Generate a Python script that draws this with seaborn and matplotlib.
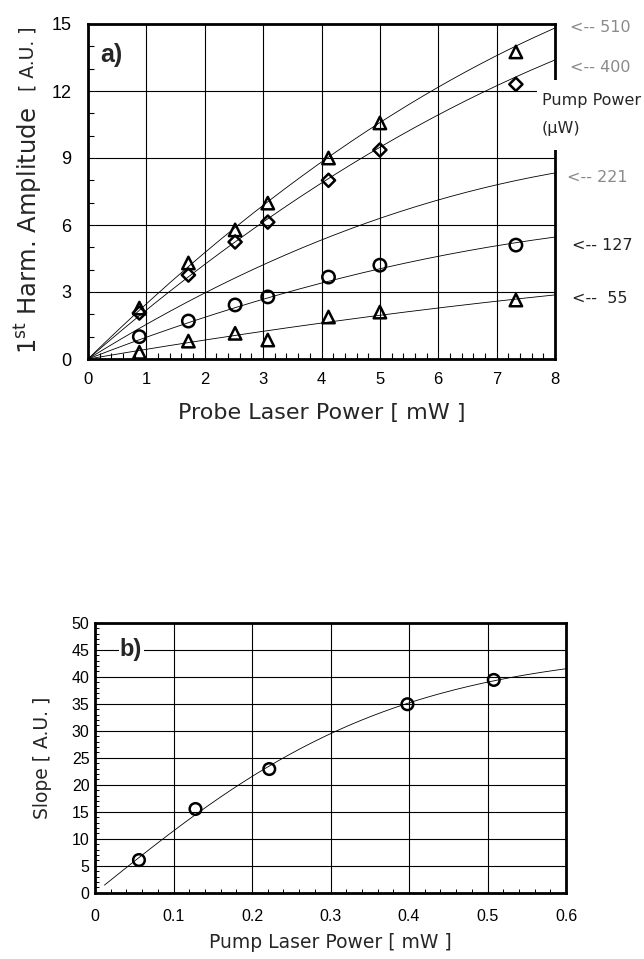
import numpy as np
import pandas as pd
import matplotlib
matplotlib.use("Agg")
import matplotlib.pyplot as plt
from matplotlib.ticker import MultipleLocator
from matplotlib.patches import Rectangle
import seaborn as sns

# ---------------- data ----------------
probe_power = [0.88, 1.72, 2.52, 3.08, 4.12, 5.0, 7.33]          # mW
amp_510 = [2.28, 4.30, 5.78, 6.98, 9.00, 10.57, 13.75]
amp_400 = [2.06, 3.76, 5.24, 6.13, 8.00, 9.36, 12.30]
amp_221 = [1.50, 2.46, 3.54, 4.07, 5.42, 6.27, 7.57]
amp_127 = [1.00, 1.70, 2.42, 2.78, 3.67, 4.20, 5.10]
amp_55 = [0.30, 0.80, 1.15, 0.85, 1.88, 2.10, 2.64]
series_labels = ["510", "400", "221", "127", "55"]
# fitted-curve values at probe power 4 and 8 mW
fit_at_4 = [8.82, 7.88, 5.33, 3.40, 1.61]
fit_at_8 = [14.82, 13.39, 8.33, 5.46, 2.87]

pump_power = [0.056, 0.128, 0.222, 0.398, 0.508]                 # mW
slope = [6.05, 15.5, 22.9, 34.9, 39.4]

xticks_a = [0, 1, 2, 3, 4, 5, 6, 7, 8]
yticks_a = [0, 3, 6, 9, 12, 15]
xticks_b = [0, 0.1, 0.2, 0.3, 0.4, 0.5, 0.6]
yticks_b = [0, 5, 10, 15, 20, 25, 30, 35, 40, 45, 50]

# ---------------- figure ----------------
sns.set_theme(style="white")
plt.rcParams["font.family"] = ["Liberation Sans", "DejaVu Sans"]
W, H = 644, 959
fig = plt.figure(figsize=(W / 100, H / 100), dpi=100)
fig.patch.set_facecolor("white")


def px_axes(l, r, t, b):
    return fig.add_axes([l / W, 1 - b / H, (r - l) / W, (b - t) / H])


LABEL_FONT = ["DejaVu Sans"]

# ---------- panel a ----------
ax = px_axes(88, 555, 24, 359)
series = [amp_510, amp_400, amp_221, amp_127, amp_55]
markers = ["^", "D", (6, 2, 0), "o", "^"]
sizes = [80, 45, 110, 80, 80]
xfit = np.linspace(0.0, 8.0, 200)
for vals, mk, sz, f4, f8 in zip(series, markers, sizes, fit_at_4, fit_at_8):
    # quadratic through origin matching the fitted curve at 4 and 8 mW
    c = (f8 - 2 * f4) / 32.0
    b = (f4 - 16 * c) / 4.0
    yfit = b * xfit + c * xfit ** 2
    sns.lineplot(x=xfit, y=yfit, ax=ax, color="black", linewidth=0.6,
                 zorder=3)
    sns.scatterplot(x=probe_power, y=vals, ax=ax, marker=mk, s=sz,
                    facecolor="none", edgecolor="black", linewidth=1.8,
                    zorder=4)

ax.set_xlim(0, 8)
ax.set_ylim(0, 15)
ax.set_xticks(xticks_a)
ax.set_yticks(yticks_a)
ax.set_xticklabels([str(t) for t in xticks_a])
ax.set_yticklabels([str(t) for t in yticks_a])
ax.xaxis.set_minor_locator(MultipleLocator(0.2))
ax.yaxis.set_minor_locator(MultipleLocator(1))
ax.tick_params(axis="both", which="major", direction="in", length=0,
               pad=9, colors="black")
ax.tick_params(axis="x", which="major", labelsize=12)
ax.tick_params(axis="y", which="major", labelsize=13, pad=12)
ax.tick_params(axis="both", which="minor", direction="in", length=4,
               width=0.8, bottom=True, left=True, color="black")
ax.grid(True, which="major", color="black", linewidth=0.8)
for s in ax.spines.values():
    s.set_visible(True)
    s.set_color("black")
    s.set_linewidth(2)
ax.set_xlabel("Probe Laser Power [ mW ]", fontsize=16, family=LABEL_FONT,
              labelpad=12)
ax.set_ylabel("")
ax.text(-0.128, 0.015, "1$^{\\mathrm{st}}$ Harm. Amplitude",
        transform=ax.transAxes, rotation=90, ha="center", va="bottom",
        fontsize=17.5, family=LABEL_FONT)
ax.text(-0.128, 0.80, "[ A.U. ]", transform=ax.transAxes, rotation=90,
        ha="center", va="bottom", fontsize=13.5, family=LABEL_FONT)
ax.text(0.026, 0.907, "a)", transform=ax.transAxes, ha="left",
        va="center", fontsize=18, fontweight="bold")

# white box for pump power legend text (breaks right spine / gridline)
fig.patches.append(Rectangle((537 / W, 1 - 150 / H), (W - 537) / W,
                             70 / H, transform=fig.transFigure,
                             facecolor="white", edgecolor="none", zorder=2))
fig.text(542 / W, 1 - 100 / H, "Pump Power", fontsize=11.5,
         family=LABEL_FONT, va="center", ha="left", zorder=4)
fig.text(542 / W, 1 - 128 / H, "(\u03bcW)", fontsize=11.5,
         family=LABEL_FONT, va="center", ha="left", zorder=4)
label_pos = [(570, 28), (570, 67), (567, 178), (572, 245), (572, 298)]
label_col = ["#8a8a8a", "#8a8a8a", "#8a8a8a", "#222222", "#222222"]
label_txt = ["<-- " + series_labels[0], "<-- " + series_labels[1],
             "<-- " + series_labels[2], "<-- " + series_labels[3],
             "<--  " + series_labels[4]]
for (px, py), col, t in zip(label_pos, label_col, label_txt):
    fig.text(px / W, 1 - py / H, t, fontsize=11.5, color=col,
             family=LABEL_FONT, va="center", ha="left", zorder=4)

# ---------- panel b ----------
bx = px_axes(95, 566, 622.7, 892.7)
xp = np.array(pump_power)
yp = np.array(slope)
best = None
for x0 in np.linspace(0.05, 2.0, 2000):
    basis = np.tanh(xp / x0)
    A_ = (basis @ yp) / (basis @ basis)
    err = np.sum((A_ * basis - yp) ** 2)
    if best is None or err < best[0]:
        best = (err, A_, x0)
_, Afit, x0fit = best
xfb = np.linspace(0.012, 0.6, 200)
yfb = Afit * np.tanh(xfb / x0fit)
sns.lineplot(x=xfb, y=yfb, ax=bx, color="black", linewidth=0.6, zorder=3)
sns.scatterplot(x=pump_power, y=slope, ax=bx, marker="o", s=70,
                facecolor="none", edgecolor="black", linewidth=1.8, zorder=4)
bx.set_xlim(0, 0.6)
bx.set_ylim(0, 50)
bx.set_xticks(xticks_b)
bx.set_yticks(yticks_b)
bx.set_xticklabels(["0"] + [f"{t:.1f}" for t in xticks_b[1:]])
bx.set_yticklabels([str(t) for t in yticks_b])
bx.xaxis.set_minor_locator(MultipleLocator(0.02))
bx.yaxis.set_minor_locator(MultipleLocator(1))
bx.tick_params(axis="both", which="major", direction="in", length=0,
               labelsize=11.5, colors="black")
bx.tick_params(axis="x", which="major", pad=12)
bx.tick_params(axis="y", which="major", pad=4)
bx.tick_params(axis="both", which="minor", direction="in", length=3,
               width=0.7, bottom=True, left=True, color="black")
bx.grid(True, which="major", color="black", linewidth=0.8)
for s in bx.spines.values():
    s.set_visible(True)
    s.set_color("black")
    s.set_linewidth(2)
bx.set_xlabel("Pump Laser Power [ mW ]", fontsize=13.5, family=LABEL_FONT,
              labelpad=6)
bx.set_ylabel("Slope [ A.U. ]", fontsize=13.5, family=LABEL_FONT,
              labelpad=14)
bx.text(0.053, 0.899, "b)", transform=bx.transAxes, ha="left",
        va="center", fontsize=17, fontweight="bold",
        bbox=dict(facecolor="white", edgecolor="none", pad=1), zorder=5)

fig.savefig("out.png", dpi=100)
